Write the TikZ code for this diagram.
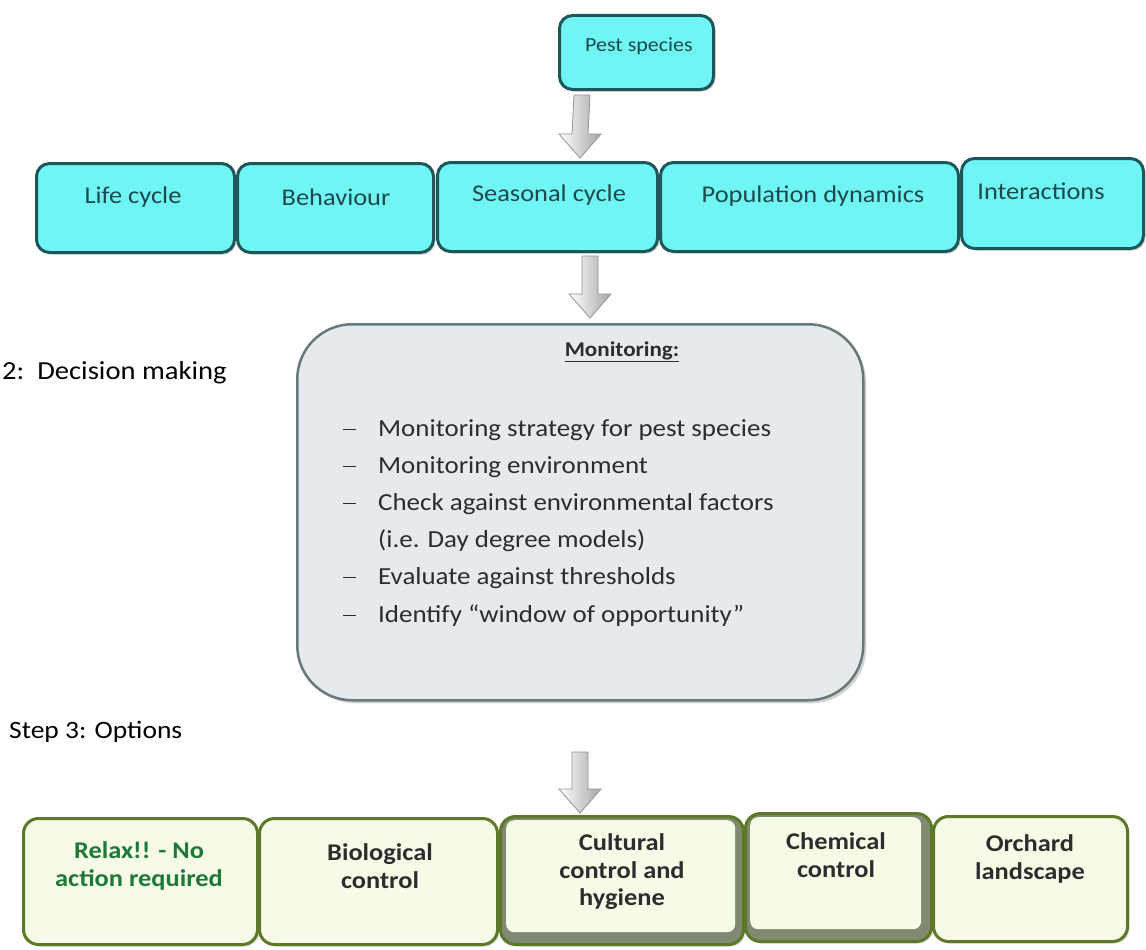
\documentclass[tikz,border=0pt]{standalone}
\usepackage{fontspec}
\setmainfont{Carlito}[FakeStretch=1.1]
\usetikzlibrary{calc,shadows}
\definecolor{cyanfill}{RGB}{112,245,245}
\definecolor{cyanline}{RGB}{28,88,90}
\definecolor{cyantext}{RGB}{28,74,76}
\definecolor{grayfill}{RGB}{228,234,237}
\definecolor{grayline}{RGB}{105,120,122}
\definecolor{greenfill}{RGB}{246,251,232}
\definecolor{greenline}{RGB}{92,120,40}
\definecolor{bevel}{RGB}{128,138,112}
\definecolor{relaxgreen}{RGB}{30,120,55}
\definecolor{darktext}{RGB}{45,45,45}
\tikzset{
  cyanbox/.style={draw=cyanline, line width=3pt, fill=cyanfill, rounded corners=13pt,
    anchor=north west, inner sep=0pt,
    drop shadow={opacity=0.35, shadow xshift=2pt, shadow yshift=-2pt}},
  greenbox/.style={draw=greenline, line width=3pt, fill=greenfill, rounded corners=15pt,
    anchor=north west, inner sep=0pt,
    drop shadow={opacity=0.3, shadow xshift=2pt, shadow yshift=-2pt}},
  bevelbox/.style={fill=greenfill, rounded corners=8pt, anchor=north west, inner sep=0pt},
  graybox/.style={draw=grayline, line width=2.5pt, fill=grayfill, rounded corners=55pt,
    anchor=north west, inner sep=0pt,
    drop shadow={opacity=0.35, shadow xshift=3pt, shadow yshift=-3pt}},
  rowtext/.style={text=cyantext, font=\fontsize{24}{28}\selectfont, inner sep=0pt},
  opttext/.style={text=darktext, font=\fontsize{24}{27.5}\bfseries, align=center, inner sep=0pt},
  listtext/.style={text=darktext, font=\fontsize{24.5}{30}\selectfont, anchor=west, inner sep=0pt},
  sidetext/.style={text=black, font=\fontsize{25}{30}\selectfont, anchor=west, inner sep=0pt},
}
\newcommand\blockarr[2]{%
  \shade[left color=white, right color=gray!70, draw=gray!85, line width=0.8pt]
    ($(#1)+(-8,0)$) -- ($(#1)+(8,0)$) -- ($(#2)+(8,-24)$) -- ($(#2)+(21,-24)$) --
    (#2) -- ($(#2)+(-21,-24)$) -- ($(#2)+(-8,-24)$) -- cycle;}
\newcommand\dashitem{\makebox[35pt][l]{\rule[0.26em]{0.52em}{1.4pt}}}
\begin{document}
\begin{tikzpicture}[x=1pt,y=-1pt]
\useasboundingbox[fill=white] (0,0) rectangle (1146,950);

% top box
\node[cyanbox, minimum width=154pt, minimum height=74pt] (pest) at (558,14) {};
\node[rowtext, font=\fontsize{20}{24}\selectfont] (pestt) at (639,46) {Pest species};

% row 2
\node[cyanbox, minimum width=198pt, minimum height=89pt] (life) at (35,162) {};
\node[cyanbox, minimum width=196pt, minimum height=89pt] (beh) at (236,162) {};
\node[cyanbox, minimum width=220pt, minimum height=89pt] (seas) at (436,161) {};
\node[cyanbox, minimum width=298pt, minimum height=89pt] (pop) at (659,161) {};
\node[cyanbox, minimum width=182pt, minimum height=90pt] (inter) at (960,157) {};
\node[rowtext] (lifet) at (133,197) {Life cycle};
\node[rowtext] (beht) at (336,197) {Behaviour};
\node[rowtext] (seast) at (549,195) {Seasonal cycle};
\node[rowtext] (popt) at (813,196) {Population dynamics};
\node[rowtext] (intert) at (1041,191) {Interactions};

% arrows
\coordinate (a1t) at (582,95);
\coordinate (a1b) at (580,158);
\blockarr{a1t}{a1b}
\coordinate (a2t) at (590,256);
\coordinate (a2b) at (590,318);
\blockarr{a2t}{a2b}

% monitoring box
\node[graybox, minimum width=566pt, minimum height=376pt] (mon) at (296,323) {};
\node[text=darktext, font=\fontsize{21}{26}\bfseries, inner sep=0pt] (mont) at (622,352) {\underline{Monitoring:}};
\node[listtext] (l1) at (343,430) {\dashitem Monitoring strategy for pest species};
\node[listtext] (l2) at (343,467) {\dashitem Monitoring environment};
\node[listtext] (l3) at (343,504) {\dashitem Check against environmental factors};
\node[listtext] (l4) at (378,541) {(i.e. Day degree models)};
\node[listtext] (l5) at (343,578) {\dashitem Evaluate against thresholds};
\node[listtext] (l6) at (343,616) {\dashitem Identify “window of opportunity”};

% side labels
\node[sidetext, font=\fontsize{26}{30}\selectfont] (dec) at (2,373) {2:\ \ Decision making};
\node[sidetext] (step) at (9,732) {Step 3: Options};

% arrow 3
\coordinate (a3t) at (580,752);
\coordinate (a3b) at (580,813);
\blockarr{a3t}{a3b}

% bottom row
\node[greenbox, minimum width=234pt, minimum height=126pt] (relax) at (22,817) {};
\node[greenbox, minimum width=238pt, minimum height=126pt] (bio) at (258,817) {};
\node[greenbox, fill=bevel, minimum width=243pt, minimum height=128pt] (cult) at (499,815) {};
\node[bevelbox, minimum width=229pt, minimum height=112pt] (cultin) at (506,820) {};
\node[greenbox, fill=bevel, minimum width=186pt, minimum height=128pt] (chem) at (744,812) {};
\node[bevelbox, minimum width=171pt, minimum height=112pt] (chemin) at (750,817) {};
\node[greenbox, minimum width=194pt, minimum height=125pt] (orch) at (932,815) {};

\node[opttext, text=relaxgreen] (relaxt) at (139,866) {Relax!! - No\\action required};
\node[opttext] (biot) at (380,866) {Biological\\control};
\node[opttext] (cultt) at (622,872) {Cultural\\control and\\hygiene};
\node[opttext] (chemt) at (836,855) {Chemical\\control};
\node[opttext] (orcht) at (1030,859) {Orchard\\landscape};
\end{tikzpicture}
\end{document}
